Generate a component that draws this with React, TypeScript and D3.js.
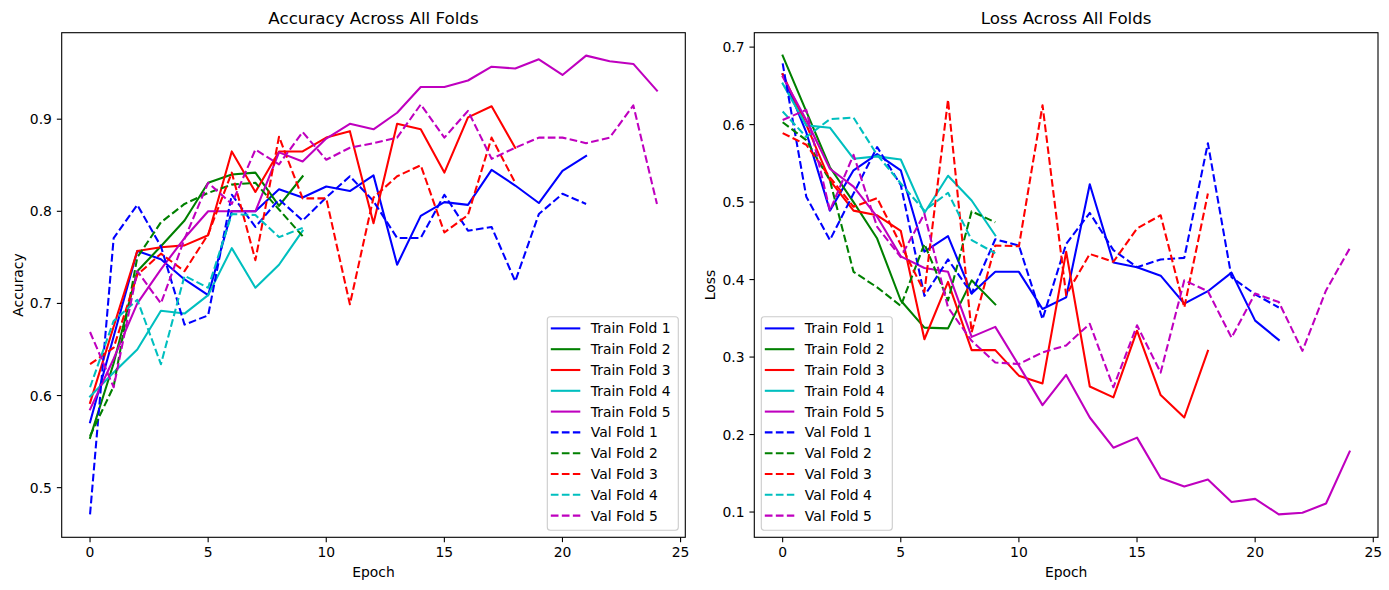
import React from 'react';
import * as d3 from 'd3';

// fold colours (matplotlib b, g, r, c, m)
const foldNames = ['Fold 1', 'Fold 2', 'Fold 3', 'Fold 4', 'Fold 5'];
const foldColors = ['#0000ff', '#008000', '#ff0000', '#00bfbf', '#bf00bf'];

// accuracy, train
const trainAcc1 = [0.571, 0.664, 0.757, 0.748, 0.726, 0.709, 0.8, 0.8, 0.824, 0.815, 0.827, 0.822, 0.839, 0.742, 0.795, 0.81, 0.807, 0.845, 0.828, 0.809, 0.844, 0.86];
const trainAcc2 = [0.554, 0.635, 0.735, 0.762, 0.79, 0.831, 0.84, 0.842, 0.806, 0.838];
const trainAcc3 = [0.592, 0.675, 0.757, 0.761, 0.763, 0.774, 0.865, 0.821, 0.865, 0.865, 0.88, 0.887, 0.787, 0.895, 0.889, 0.842, 0.902, 0.914, 0.869];
const trainAcc4 = [0.599, 0.625, 0.65, 0.692, 0.689, 0.709, 0.76, 0.717, 0.742, 0.779];
const trainAcc5 = [0.585, 0.64, 0.7, 0.737, 0.771, 0.8, 0.8, 0.8, 0.864, 0.854, 0.879, 0.895, 0.889, 0.907, 0.935, 0.935, 0.942, 0.957, 0.955, 0.965, 0.948, 0.969, 0.963, 0.96, 0.931];

// accuracy, validation
const valAcc1 = [0.471, 0.771, 0.807, 0.762, 0.677, 0.687, 0.818, 0.783, 0.813, 0.79, 0.815, 0.838, 0.811, 0.771, 0.771, 0.818, 0.779, 0.783, 0.724, 0.797, 0.819, 0.808];
const valAcc2 = [0.556, 0.61, 0.75, 0.788, 0.808, 0.82, 0.829, 0.831, 0.802, 0.773];
const valAcc3 = [0.634, 0.652, 0.731, 0.754, 0.735, 0.775, 0.842, 0.747, 0.881, 0.814, 0.814, 0.699, 0.815, 0.838, 0.85, 0.777, 0.796, 0.88, 0.831];
const valAcc4 = [0.609, 0.681, 0.704, 0.634, 0.73, 0.717, 0.797, 0.796, 0.772, 0.782];
const valAcc5 = [0.669, 0.609, 0.735, 0.7, 0.77, 0.831, 0.808, 0.867, 0.851, 0.886, 0.856, 0.869, 0.874, 0.88, 0.916, 0.88, 0.909, 0.857, 0.869, 0.88, 0.88, 0.874, 0.88, 0.915, 0.808];

// loss, train
const trainLoss1 = [0.665, 0.59, 0.489, 0.541, 0.562, 0.541, 0.436, 0.456, 0.382, 0.41, 0.41, 0.362, 0.377, 0.523, 0.422, 0.416, 0.405, 0.369, 0.385, 0.409, 0.347, 0.322];
const trainLoss2 = [0.689, 0.617, 0.545, 0.5, 0.453, 0.373, 0.338, 0.337, 0.399, 0.368];
const trainLoss3 = [0.665, 0.6, 0.528, 0.489, 0.483, 0.463, 0.323, 0.397, 0.309, 0.309, 0.276, 0.266, 0.436, 0.262, 0.248, 0.334, 0.251, 0.222, 0.308];
const trainLoss4 = [0.653, 0.599, 0.596, 0.556, 0.559, 0.555, 0.486, 0.534, 0.502, 0.457];
const trainLoss5 = [0.662, 0.606, 0.543, 0.52, 0.481, 0.43, 0.415, 0.41, 0.326, 0.339, 0.289, 0.238, 0.277, 0.222, 0.183, 0.196, 0.144, 0.133, 0.142, 0.113, 0.117, 0.097, 0.099, 0.111, 0.178];

// loss, validation
const valLoss1 = [0.679, 0.507, 0.451, 0.511, 0.571, 0.522, 0.379, 0.426, 0.382, 0.452, 0.444, 0.349, 0.446, 0.486, 0.438, 0.416, 0.426, 0.428, 0.576, 0.403, 0.381, 0.364];
const valLoss2 = [0.603, 0.58, 0.528, 0.41, 0.39, 0.366, 0.446, 0.373, 0.488, 0.474];
const valLoss3 = [0.589, 0.574, 0.532, 0.494, 0.505, 0.445, 0.384, 0.632, 0.332, 0.444, 0.443, 0.625, 0.38, 0.433, 0.423, 0.466, 0.483, 0.364, 0.511];
const valLoss4 = [0.617, 0.584, 0.607, 0.609, 0.561, 0.524, 0.489, 0.512, 0.451, 0.434];
const valLoss5 = [0.606, 0.619, 0.489, 0.561, 0.468, 0.429, 0.485, 0.364, 0.321, 0.293, 0.291, 0.306, 0.315, 0.343, 0.261, 0.341, 0.28, 0.399, 0.385, 0.325, 0.382, 0.371, 0.308, 0.386, 0.44];

const epochTicks = [0, 5, 10, 15, 20, 25];
const accTicks = [0.5, 0.6, 0.7, 0.8, 0.9];
const lossTicks = [0.1, 0.2, 0.3, 0.4, 0.5, 0.6, 0.7];

const W = 1389;
const H = 590;
const TOP = 32.7;
const BOTTOM = 537.3;
const FS = 13.9; // 10pt at 100 dpi
const FONT = '"DejaVu Sans", sans-serif';
const TICK = 4.86;

interface Series {
  label: string;
  color: string;
  dashed: boolean;
  values: number[];
}

interface PanelProps {
  left: number;
  right: number;
  title: string;
  yLabel: string;
  yTicks: number[];
  train: number[][];
  val: number[][];
  legendSide: 'left' | 'right';
}

const Panel: React.FC<PanelProps> = ({ left, right, title, yLabel, yTicks, train, val, legendSide }) => {
  const series: Series[] = [
    ...train.map((v, i) => ({ label: `Train ${foldNames[i]}`, color: foldColors[i], dashed: false, values: v })),
    ...val.map((v, i) => ({ label: `Val ${foldNames[i]}`, color: foldColors[i], dashed: true, values: v })),
  ];

  const maxEpoch = d3.max(series, (s) => s.values.length - 1) ?? 0;
  const xPad = maxEpoch * 0.05;
  const x = d3.scaleLinear().domain([-xPad, maxEpoch + xPad]).range([left, right]);

  const allVals = series.flatMap((s) => s.values);
  const [lo, hi] = d3.extent(allVals) as [number, number];
  const yPad = (hi - lo) * 0.05;
  const y = d3.scaleLinear().domain([lo - yPad, hi + yPad]).range([BOTTOM, TOP]);

  const line = d3
    .line<number>()
    .x((_, i) => x(i))
    .y((d) => y(d));

  const legW = 131;
  const legH = 213.5;
  const legX = legendSide === 'right' ? right - 7 - legW : left + 7;
  const legY = BOTTOM - 7 - legH;
  const rowH = 20.8;

  const cx = (left + right) / 2;

  return (
    <g>
      <rect x={left} y={TOP} width={right - left} height={BOTTOM - TOP} fill="#fff" />
      <defs>
        <clipPath id={`clip-${title.replace(/\s/g, '')}`}>
          <rect x={left} y={TOP} width={right - left} height={BOTTOM - TOP} />
        </clipPath>
      </defs>
      <g clipPath={`url(#clip-${title.replace(/\s/g, '')})`}>
        {series.map((s) => (
          <path
            key={s.label}
            d={line(s.values) ?? ''}
            fill="none"
            stroke={s.color}
            strokeWidth={2.08}
            strokeDasharray={s.dashed ? '7.7 3.33' : undefined}
            strokeLinejoin="round"
            strokeLinecap={s.dashed ? 'butt' : 'square'}
          />
        ))}
      </g>

      {/* spines */}
      <rect x={left} y={TOP} width={right - left} height={BOTTOM - TOP} fill="none" stroke="#000" strokeWidth={1.1} />

      {/* x axis */}
      {epochTicks.map((t) => (
        <g key={`x${t}`}>
          <line x1={x(t)} x2={x(t)} y1={BOTTOM} y2={BOTTOM + TICK} stroke="#000" strokeWidth={1.1} />
          <text x={x(t)} y={BOTTOM + 20} textAnchor="middle" fontSize={FS} fontFamily={FONT} fill="#000">
            {t}
          </text>
        </g>
      ))}
      <text x={cx} y={576.5} textAnchor="middle" fontSize={FS} fontFamily={FONT} fill="#000">
        Epoch
      </text>

      {/* y axis */}
      {yTicks.map((t) => (
        <g key={`y${t}`}>
          <line x1={left - TICK} x2={left} y1={y(t)} y2={y(t)} stroke="#000" strokeWidth={1.1} />
          <text x={left - TICK - 4.9} y={y(t) + 5} textAnchor="end" fontSize={FS} fontFamily={FONT} fill="#000">
            {t.toFixed(1)}
          </text>
        </g>
      ))}
      <text
        transform={`translate(${left - 39},${(TOP + BOTTOM) / 2}) rotate(-90)`}
        textAnchor="middle"
        fontSize={FS}
        fontFamily={FONT}
        fill="#000"
      >
        {yLabel}
      </text>

      <text x={cx} y={24} textAnchor="middle" fontSize={16.7} fontFamily={FONT} fill="#000">
        {title}
      </text>

      {/* legend */}
      <rect x={legX} y={legY} width={legW} height={legH} rx={3} fill="#fff" fillOpacity={0.8} stroke="#cccccc" strokeWidth={1.1} />
      {series.map((s, i) => {
        const ry = legY + 11.6 + i * rowH;
        return (
          <g key={`leg${s.label}`}>
            <line
              x1={legX + 3.5}
              x2={legX + 33}
              y1={ry}
              y2={ry}
              stroke={s.color}
              strokeWidth={2.08}
              strokeDasharray={s.dashed ? '7.7 3.33' : undefined}
            />
            <text x={legX + 43.5} y={ry + 5} fontSize={FS} fontFamily={FONT} fill="#000">
              {s.label}
            </text>
          </g>
        );
      })}
    </g>
  );
};

export default function App() {
  return (
    <svg
      width={W}
      height={H}
      viewBox={`0 0 ${W} ${H}`}
      style={{ position: 'absolute', left: 0, top: 0, background: '#fff' }}
    >
      <rect width={W} height={H} fill="#fff" />
      <Panel
        left={61.7}
        right={685.3}
        title="Accuracy Across All Folds"
        yLabel="Accuracy"
        yTicks={accTicks}
        train={[trainAcc1, trainAcc2, trainAcc3, trainAcc4, trainAcc5]}
        val={[valAcc1, valAcc2, valAcc3, valAcc4, valAcc5]}
        legendSide="right"
      />
      <Panel
        left={754.3}
        right={1378}
        title="Loss Across All Folds"
        yLabel="Loss"
        yTicks={lossTicks}
        train={[trainLoss1, trainLoss2, trainLoss3, trainLoss4, trainLoss5]}
        val={[valLoss1, valLoss2, valLoss3, valLoss4, valLoss5]}
        legendSide="left"
      />
    </svg>
  );
}
